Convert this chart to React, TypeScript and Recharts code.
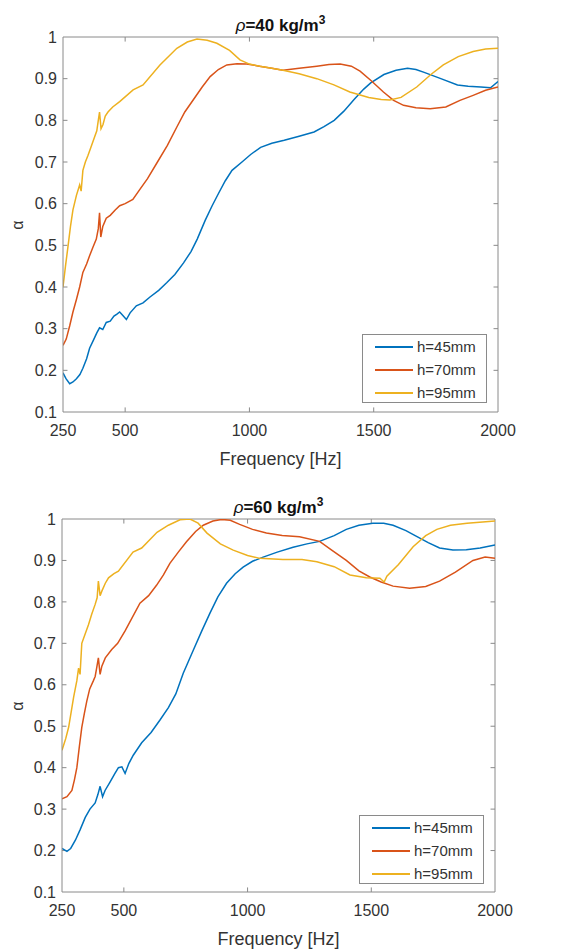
import React from 'react';
import { LineChart, Line, XAxis, YAxis, ReferenceLine } from 'recharts';

// frequency axis and alpha axis ticks
const xTicks = [250, 500, 1000, 1500, 2000];
const yTicks = [0.1, 0.2, 0.3, 0.4, 0.5, 0.6, 0.7, 0.8, 0.9, 1];
const seriesNames = ['h=45mm', 'h=70mm', 'h=95mm'];

// rho = 40 kg/m3
const freq40h45 = [
  250, 262, 277, 290, 304, 318, 330, 345, 357, 372,
  386, 397, 410, 424, 440, 455, 467, 478, 490, 505,
  520, 545, 572, 600, 635, 667, 700, 735, 765, 790,
  822, 850, 876, 903, 930, 970, 1005, 1045, 1090, 1140,
  1200, 1260, 1300, 1341, 1380, 1421, 1460, 1488, 1541, 1590,
  1636, 1670, 1703, 1770, 1837, 1880, 1931, 1970, 2000,
];
const alpha40h45 = [
  0.194, 0.18, 0.168, 0.172, 0.18, 0.19, 0.205, 0.228, 0.253, 0.272,
  0.29, 0.302, 0.298, 0.315, 0.318, 0.33, 0.335, 0.34, 0.332, 0.322,
  0.338, 0.355, 0.362, 0.376, 0.392, 0.41, 0.43, 0.458, 0.485, 0.515,
  0.56, 0.595, 0.625, 0.655, 0.68, 0.70, 0.718, 0.735, 0.745, 0.752,
  0.762, 0.772, 0.785, 0.80, 0.822, 0.85, 0.875, 0.89, 0.91, 0.92,
  0.925, 0.922, 0.915, 0.90, 0.885, 0.882, 0.88, 0.878, 0.893,
];
const freq40h70 = [
  250, 263, 277, 290, 304, 317, 330, 345, 357, 370,
  384, 392, 397, 402, 410, 424, 440, 460, 478, 500,
  531, 560, 590, 627, 670, 708, 740, 775, 810, 842,
  875, 909, 950, 989, 1040, 1090, 1135, 1200, 1271, 1320,
  1365, 1410, 1445, 1490, 1539, 1580, 1620, 1670, 1727, 1790,
  1847, 1900, 1950, 2000,
];
const alpha40h70 = [
  0.26, 0.275, 0.307, 0.34, 0.37, 0.40, 0.435, 0.455, 0.475, 0.495,
  0.515, 0.54, 0.578, 0.52, 0.545, 0.565, 0.572, 0.585, 0.595, 0.60,
  0.61, 0.635, 0.66, 0.697, 0.74, 0.784, 0.82, 0.85, 0.88, 0.905,
  0.922, 0.933, 0.936, 0.935, 0.93, 0.925, 0.92, 0.925, 0.93, 0.934,
  0.935, 0.93, 0.918, 0.895, 0.868, 0.848, 0.836, 0.83, 0.828, 0.832,
  0.848, 0.86, 0.872, 0.88,
];
const freq40h95 = [
  250, 260, 270, 280, 290, 304, 317, 323, 330, 340,
  350, 362, 377, 386, 392, 397, 403, 411, 420, 431,
  450, 478, 532, 572, 640, 708, 750, 789, 830, 869,
  920, 962, 1000, 1042, 1090, 1135, 1200, 1271, 1340, 1404,
  1480, 1530, 1565, 1610, 1673, 1730, 1780, 1840, 1900, 1950,
  2000,
];
const alpha40h95 = [
  0.40, 0.45, 0.497, 0.545, 0.585, 0.62, 0.645, 0.63, 0.68, 0.70,
  0.715, 0.735, 0.76, 0.775, 0.80, 0.82, 0.78, 0.79, 0.81, 0.82,
  0.832, 0.845, 0.873, 0.885, 0.933, 0.973, 0.988, 0.995, 0.992, 0.985,
  0.968, 0.945, 0.935, 0.93, 0.925, 0.92, 0.912, 0.90, 0.885, 0.868,
  0.855, 0.85, 0.849, 0.855, 0.88, 0.91, 0.933, 0.953, 0.965, 0.971,
  0.973,
];

// rho = 60 kg/m3
const freq60h45 = [
  250, 270, 285, 304, 323, 344, 363, 384, 395, 404,
  414, 424, 444, 464, 478, 492, 505, 520, 538, 572,
  610, 646, 680, 710, 740, 781, 815, 848, 880, 915,
  950, 982, 1020, 1063, 1120, 1184, 1240, 1291, 1350, 1399,
  1450, 1506, 1550, 1588, 1640, 1683, 1730, 1776, 1830, 1884,
  1940, 2000,
];
const alpha60h45 = [
  0.205, 0.198, 0.205, 0.225, 0.25, 0.28, 0.30, 0.315, 0.335, 0.355,
  0.33, 0.345, 0.365, 0.386, 0.40, 0.402, 0.386, 0.41, 0.43, 0.46,
  0.485, 0.515, 0.545, 0.578, 0.628, 0.684, 0.73, 0.773, 0.812, 0.845,
  0.868, 0.884, 0.898, 0.908, 0.92, 0.932, 0.94, 0.946, 0.96, 0.975,
  0.985, 0.99, 0.99, 0.985, 0.972, 0.958, 0.943, 0.93, 0.925, 0.926,
  0.93, 0.937,
];
const freq60h70 = [
  250, 270, 290, 300, 310, 320, 330, 340, 350, 362,
  377, 384, 390, 397, 404, 411, 425, 451, 475, 505,
  565, 600, 632, 660, 686, 720, 753, 790, 821, 860,
  895, 930, 968, 1020, 1076, 1140, 1210, 1291, 1340, 1399,
  1450, 1494, 1540, 1588, 1655, 1720, 1776, 1840, 1911, 1960,
  2000,
];
const alpha60h70 = [
  0.325, 0.33, 0.345, 0.37, 0.40, 0.45, 0.497, 0.53, 0.56, 0.59,
  0.61, 0.62, 0.64, 0.665, 0.625, 0.645, 0.665, 0.685, 0.70, 0.73,
  0.797, 0.815, 0.84, 0.865, 0.893, 0.92, 0.945, 0.97, 0.985, 0.995,
  0.999, 0.997, 0.987, 0.975, 0.966, 0.96, 0.957, 0.946, 0.925, 0.90,
  0.875, 0.86, 0.848, 0.838, 0.833, 0.837, 0.85, 0.872, 0.90, 0.908,
  0.905,
];
const freq60h95 = [
  250, 265, 277, 290, 297, 310, 317, 323, 330, 345,
  357, 370, 384, 392, 397, 404, 411, 425, 438, 460,
  478, 537, 572, 634, 680, 727, 767, 800, 836, 890,
  942, 1000, 1050, 1143, 1220, 1280, 1350, 1414, 1480, 1535,
  1552, 1563, 1610, 1669, 1720, 1765, 1820, 1887, 1950, 2000,
];
const alpha60h95 = [
  0.442, 0.47, 0.498, 0.545, 0.57, 0.61, 0.64, 0.625, 0.70, 0.725,
  0.745, 0.77, 0.794, 0.81, 0.85, 0.815, 0.826, 0.845, 0.858, 0.868,
  0.874, 0.92, 0.93, 0.968, 0.985, 0.998, 1.0, 0.99, 0.966, 0.94,
  0.925, 0.912, 0.905, 0.902, 0.902, 0.897, 0.885, 0.865, 0.858, 0.857,
  0.848, 0.862, 0.89, 0.933, 0.96, 0.975, 0.985, 0.99, 0.993, 0.995,
];

const COLORS = ['#0072BD', '#D95319', '#EDB120'];
const AXIS = '#8a8a8a';
const TEXT = '#333';
const FONT = '"Liberation Sans", Arial, Helvetica, sans-serif';

const toPoints = (f: number[], a: number[]) => f.map((x, i) => ({ f: x, a: a[i] }));

interface PanelProps {
  density: number;
  series: { f: number[]; a: number[] }[];
  top: number;
  plotTop: number;
  plotLeft: number;
  plotRight: number;
  plotBottom: number;
  height: number;
  legendTop: number;
  legendLeft: number;
}

const Panel: React.FC<PanelProps> = ({
  density, series, top, plotTop, plotLeft, plotRight, plotBottom, height, legendTop, legendLeft,
}) => {
  const xAxisH = 30;
  const marginBottom = height - plotBottom - xAxisH;
  const xTickLen = 18;
  const yTickLen = 0.011;
  const inner = xTicks.slice(1, -1);
  const innerY = yTicks.slice(1, -1);
  const plotMid = (plotTop + plotBottom) / 2;

  return (
    <div style={{ position: 'absolute', left: 0, top, width: 583, height }}>
      <div
        style={{
          position: 'absolute', left: plotLeft, width: plotRight - plotLeft, top: plotTop - 21,
          textAlign: 'center', fontSize: 17, fontWeight: 'bold', color: '#111', lineHeight: '20px',
        }}
      >
        <span style={{ fontWeight: 'normal', fontStyle: 'italic' }}>ρ</span>={density} kg/m
        <sup style={{ fontSize: 12, lineHeight: 0 }}>3</sup>
      </div>
      <div
        style={{
          position: 'absolute', left: 9, top: plotMid - 10, width: 18, height: 20, lineHeight: '20px',
          textAlign: 'center', fontSize: 16, color: TEXT, transform: 'rotate(-90deg)',
        }}
      >
        α
      </div>
      <LineChart
        width={583}
        height={height}
        margin={{ top: plotTop, right: 583 - plotRight, bottom: marginBottom, left: 0 }}
        style={{ fontFamily: FONT }}
      >
        <XAxis
          type="number"
          dataKey="f"
          domain={[250, 2000]}
          ticks={xTicks}
          allowDataOverflow
          height={xAxisH}
          tickLine={false}
          tickSize={0}
          tickMargin={13}
          axisLine={{ stroke: AXIS }}
          tick={{ fill: TEXT, fontSize: 16 }}
          label={{ value: 'Frequency [Hz]', position: 'bottom', offset: 10, fill: TEXT, fontSize: 18 }}
        />
        <YAxis
          type="number"
          domain={[0.1, 1]}
          ticks={yTicks}
          allowDataOverflow
          width={plotLeft}
          tickLine={false}
          tickSize={0}
          tickMargin={6}
          axisLine={{ stroke: AXIS }}
          tick={{ fill: TEXT, fontSize: 16 }}
        />
        <ReferenceLine y={1} stroke={AXIS} />
        <ReferenceLine x={2000} stroke={AXIS} />
        {inner.map((v) => (
          <ReferenceLine key={'b' + v} segment={[{ x: v, y: 0.1 }, { x: v, y: 0.1 + yTickLen }]} stroke={AXIS} />
        ))}
        {inner.map((v) => (
          <ReferenceLine key={'t' + v} segment={[{ x: v, y: 1 }, { x: v, y: 1 - yTickLen }]} stroke={AXIS} />
        ))}
        {innerY.map((v) => (
          <ReferenceLine key={'l' + v} segment={[{ x: 250, y: v }, { x: 250 + xTickLen, y: v }]} stroke={AXIS} />
        ))}
        {innerY.map((v) => (
          <ReferenceLine key={'r' + v} segment={[{ x: 2000, y: v }, { x: 2000 - xTickLen, y: v }]} stroke={AXIS} />
        ))}
        {series.map((s, i) => (
          <Line
            key={seriesNames[i]}
            name={seriesNames[i]}
            data={toPoints(s.f, s.a)}
            dataKey="a"
            type="linear"
            stroke={COLORS[i]}
            strokeWidth={1.5}
            dot={false}
            isAnimationActive={false}
          />
        ))}
      </LineChart>
      <div
        style={{
          position: 'absolute', left: legendLeft, top: legendTop, width: 125, height: 69,
          border: `1px solid ${AXIS}`, background: '#fff', boxSizing: 'border-box',
        }}
      >
        {seriesNames.map((n, i) => (
          <div key={n} style={{ display: 'flex', alignItems: 'center', height: 23, paddingLeft: 12 }}>
            <div style={{ width: 38, height: 2, background: COLORS[i] }} />
            <span style={{ marginLeft: 4, fontSize: 15, color: TEXT, fontFamily: FONT }}>{n}</span>
          </div>
        ))}
      </div>
    </div>
  );
};

export default function App() {
  return (
    <div
      style={{
        position: 'absolute', left: 0, top: 0, width: 583, height: 951, background: '#fff', fontFamily: FONT,
      }}
    >
      <Panel
        density={40}
        series={[
          { f: freq40h45, a: alpha40h45 },
          { f: freq40h70, a: alpha40h70 },
          { f: freq40h95, a: alpha40h95 },
        ]}
        top={0}
        height={475}
        plotTop={37}
        plotLeft={63}
        plotRight={498}
        plotBottom={412}
        legendTop={334}
        legendLeft={362}
      />
      <Panel
        density={60}
        series={[
          { f: freq60h45, a: alpha60h45 },
          { f: freq60h70, a: alpha60h70 },
          { f: freq60h95, a: alpha60h95 },
        ]}
        top={475}
        height={476}
        plotTop={44}
        plotLeft={62}
        plotRight={495}
        plotBottom={417}
        legendTop={340}
        legendLeft={359}
      />
    </div>
  );
}
